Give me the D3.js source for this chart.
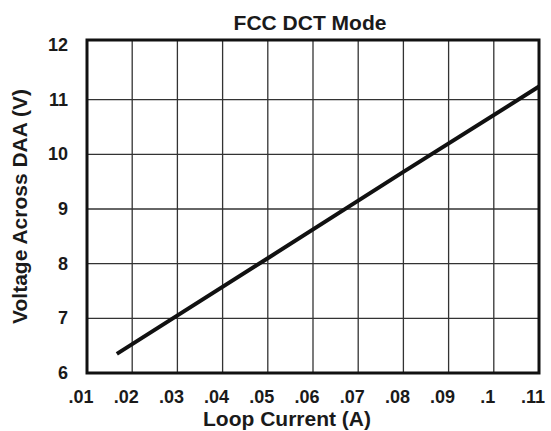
<!DOCTYPE html>
<html>
<head>
<meta charset="utf-8">
<script src="https://d3js.org/d3.v7.min.js"></script>
<style>
  body { margin: 0; background: #fff; }
  text { font-family: "Liberation Sans", Arial, sans-serif; font-weight: bold; fill: #1a1a1a; }
</style>
</head>
<body>
<div id="chart"></div>
<script>
/* data */
var loopCurrent = [0.0166, 0.05, 0.08, 0.11];
var voltage = [6.35, 8.1, 9.68, 11.24];
var xTicks = [0.01, 0.02, 0.03, 0.04, 0.05, 0.06, 0.07, 0.08, 0.09, 0.1, 0.11];
var xTickLabels = ['.01', '.02', '.03', '.04', '.05', '.06', '.07', '.08', '.09', '.1', '.11'];
var yTicks = [6, 7, 8, 9, 10, 11, 12];

/* setup */
var iWidth = 551, iHeight = 431;
var plotL = 87, plotR = 539, plotT = 40, plotB = 373;

var x = d3.scaleLinear().domain([0.01, 0.11]).range([plotL, plotR]);
// the 12 label sits a little under the frame top in the original
var y = d3.scaleLinear().domain([6, 12]).range([plotB, plotT + 5]);

var svg = d3.select('#chart').append('svg')
    .attr('width', iWidth)
    .attr('height', iHeight);

// grid
svg.append('g').selectAll('line')
    .data(xTicks.slice(1, -1))
  .enter().append('line')
    .attr('x1', d => x(d)).attr('x2', d => x(d))
    .attr('y1', plotT).attr('y2', plotB)
    .attr('stroke', '#333').attr('stroke-width', 1.3);

svg.append('g').selectAll('line')
    .data(yTicks.slice(1, -1))
  .enter().append('line')
    .attr('x1', plotL).attr('x2', plotR)
    .attr('y1', d => y(d)).attr('y2', d => y(d))
    .attr('stroke', '#333').attr('stroke-width', 1.3);

// frame
svg.append('rect')
    .attr('x', plotL).attr('y', plotT)
    .attr('width', plotR - plotL).attr('height', plotB - plotT)
    .attr('fill', 'none').attr('stroke', '#111').attr('stroke-width', 3);

// data line
var pts = loopCurrent.map((c, i) => [c, voltage[i]]);
svg.append('path')
    .datum(pts)
    .attr('fill', 'none')
    .attr('stroke', '#111')
    .attr('stroke-width', 4)
    .attr('d', d3.line().x(d => x(d[0])).y(d => y(d[1])));

// tick labels
svg.append('g').selectAll('text')
    .data(xTicks)
  .enter().append('text')
    .attr('x', d => x(d) - 6)
    .attr('y', 403)
    .attr('text-anchor', 'middle')
    .style('font-size', '18px')
    .text((d, i) => xTickLabels[i]);

svg.append('g').selectAll('text')
    .data(yTicks)
  .enter().append('text')
    .attr('x', 68)
    .attr('y', d => y(d) + 6)
    .attr('text-anchor', 'end')
    .style('font-size', '18px')
    .text(d => d);

// titles
svg.append('text')
    .attr('x', 310)
    .attr('y', 30)
    .attr('text-anchor', 'middle')
    .style('font-size', '21px')
    .text('FCC DCT Mode');

svg.append('text')
    .attr('x', 287)
    .attr('y', 426)
    .attr('text-anchor', 'middle')
    .style('font-size', '21px')
    .text('Loop Current (A)');

svg.append('text')
    .attr('transform', 'translate(27,' + (plotT + plotB) / 2 + ') rotate(-90)')
    .attr('text-anchor', 'middle')
    .style('font-size', '21px')
    .text('Voltage Across DAA (V)');
</script>
</body>
</html>
